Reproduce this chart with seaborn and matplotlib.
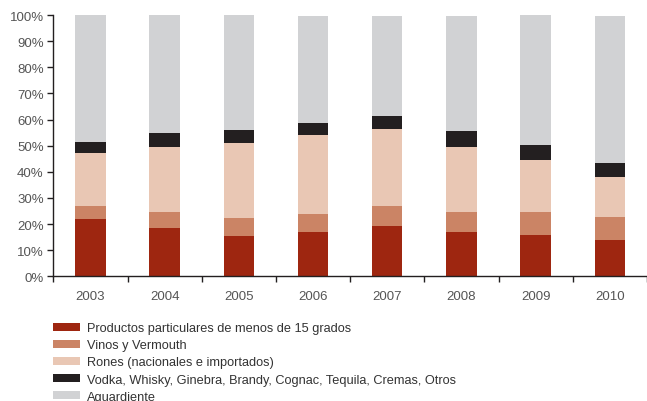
import numpy as np
import pandas as pd
import matplotlib
matplotlib.use("Agg")
import matplotlib.pyplot as plt
from matplotlib.patches import Patch
from matplotlib.ticker import PercentFormatter
import seaborn as sns

years = ["2003", "2004", "2005", "2006", "2007", "2008", "2009", "2010"]
categories = [
    "Productos particulares de menos de 15 grados",
    "Vinos y Vermouth",
    "Rones (nacionales e importados)",
    "Vodka, Whisky, Ginebra, Brandy, Cognac, Tequila, Cremas, Otros",
    "Aguardiente",
]
productos = [21.9, 18.5, 15.4, 17.0, 19.3, 17.0, 15.8, 13.9]
vinos = [5.0, 6.1, 6.9, 6.9, 7.6, 7.6, 8.8, 8.8]
rones = [20.3, 24.9, 28.7, 30.2, 29.5, 24.9, 19.9, 15.3]
otros = [4.2, 5.3, 5.0, 4.6, 5.0, 6.1, 5.8, 5.4]
aguardiente = [48.6, 45.2, 44.0, 40.9, 38.2, 44.0, 49.7, 56.2]
colors = ["#9e2610", "#cb8465", "#e9c7b4", "#231f20", "#d1d2d4"]

sns.set_theme(style="white")
plt.rcParams["font.family"] = ["Liberation Sans", "DejaVu Sans"]

df = pd.DataFrame({"year": years, "productos": productos, "vinos": vinos,
                   "rones": rones, "otros": otros, "aguardiente": aguardiente})
series = ["productos", "vinos", "rones", "otros", "aguardiente"]
cum = df[series].cumsum(axis=1)

fig = plt.figure(figsize=(6.47, 4.02), dpi=100)
ax = fig.add_axes([0.0824, 0.310, 0.9176, 0.650])

# stacked look: draw cumulative totals from the top segment down
for col, color in reversed(list(zip(series, colors))):
    sns.barplot(x=df["year"], y=cum[col], color=color, width=0.41,
                saturation=1, ax=ax, linewidth=0)

ax.set_xlim(-0.494, 7.39)
ax.set_ylim(0, 100)
ax.set_yticks(np.arange(0, 101, 10))
ax.yaxis.set_major_formatter(PercentFormatter(decimals=0))
ax.set_xlabel("")
ax.set_ylabel("")
ax.set_xticks(np.arange(len(years)))
ax.set_xticklabels(years)
ax.set_xticks(np.arange(-0.5, 8, 1), minor=True)

for s in ["top", "right"]:
    ax.spines[s].set_visible(False)
for s in ["left", "bottom"]:
    ax.spines[s].set_color("#231f20")
    ax.spines[s].set_linewidth(1.0)

ax.tick_params(axis="y", left=True, direction="out", length=4, width=1,
               color="#231f20", labelsize=9.5, labelcolor="#555555", pad=3)
ax.tick_params(axis="x", which="major", bottom=False, labelsize=9.5,
               labelcolor="#555555", pad=3.7)
ax.tick_params(axis="x", which="minor", bottom=True, direction="out",
               length=4, width=1, color="#231f20")

handles = [Patch(facecolor=c, edgecolor="none", label=l)
           for c, l in zip(colors, categories)]
fig.legend(handles=handles, loc="upper left", bbox_to_anchor=(0.082, 0.196),
           ncol=1, frameon=False, fontsize=9.2, handlelength=2.1,
           handleheight=0.55, handletextpad=0.55, labelspacing=0.4,
           borderaxespad=0, borderpad=0, labelcolor="#333333")

fig.savefig("out.png", dpi=100)
